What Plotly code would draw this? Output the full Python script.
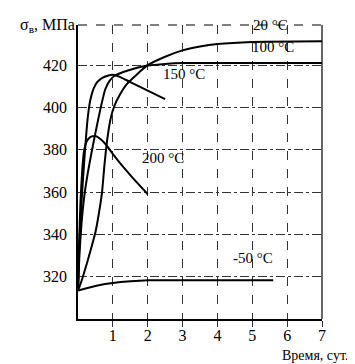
import plotly.graph_objects as go

# Data (days, MPa)
x_20 = [0, 0.07, 0.14, 0.25, 0.37, 0.5, 0.6, 0.69, 0.76, 0.84, 0.94, 1.05, 1.2, 1.4, 1.68, 2.0, 2.5, 3.0, 3.5, 4.0, 5.0, 7.0]
y_20 = [313.5, 316.5, 320, 326, 333, 341, 350, 360, 373, 385, 395, 401, 406, 411, 415.5, 420, 424, 427, 428.8, 430, 431, 431.3]

x_100 = [0, 0.04, 0.1, 0.18, 0.28, 0.38, 0.5, 0.6, 0.68, 0.78, 0.9, 1.05, 1.3, 1.6, 2.0, 2.5, 3.0, 7.0]
y_100 = [313.5, 330, 345, 358, 369, 378, 388, 396, 402, 408.5, 412.5, 415, 416.8, 418.3, 419.8, 420.6, 421, 421]

x_150 = [0, 0.04, 0.1, 0.18, 0.25, 0.3, 0.36, 0.45, 0.55, 0.7, 0.85, 1.0, 1.2, 1.5, 2.0, 2.5]
y_150 = [313.5, 335, 355, 375, 390, 398, 404, 409, 412, 414, 415, 415.5, 414.5, 412, 408, 404]

x_200 = [0, 0.03, 0.07, 0.12, 0.17, 0.25, 0.35, 0.5, 0.65, 0.8, 1.0, 1.5, 2.0]
y_200 = [313.5, 335, 355, 370, 379, 384, 386, 386.5, 385, 382.5, 378, 368, 359]

x_m50 = [0, 0.3, 0.6, 1.0, 1.5, 2.0, 3.0, 5.6]
y_m50 = [313.5, 314.8, 316, 317, 317.8, 318.3, 318.3, 318.3]

x_ticks = [1, 2, 3, 4, 5, 6, 7]
y_ticks = [320, 340, 360, 380, 400, 420]

labels = ["20 °C", "100 °C", "150 °C", "200 °C", "-50 °C"]
label_x = [5.51, 5.59, 3.04, 2.44, 5.02]
label_y = [438.8, 428.5, 415.8, 376.1, 328.8]

FONT = "Liberation Serif, serif"

fig = go.Figure()
for xs, ys in [(x_20, y_20), (x_100, y_100), (x_150, y_150), (x_200, y_200), (x_m50, y_m50)]:
    fig.add_trace(go.Scatter(x=xs, y=ys, mode="lines",
                             line=dict(color="black", width=2, shape="spline", smoothing=0.5),
                             showlegend=False, hoverinfo="skip"))

for t, lx, ly in zip(labels, label_x, label_y):
    fig.add_annotation(x=lx, y=ly, text=t, showarrow=False,
                       font=dict(family=FONT, size=15, color="black"))

fig.add_annotation(xref="paper", yref="paper", x=-0.005, y=0.999, xanchor="right", yanchor="middle",
                   text="σ<sub>в</sub>, МПа", showarrow=False, font=dict(family=FONT, size=16, color="black"))
fig.add_annotation(xref="paper", yref="paper", x=1.115, y=-0.125, xanchor="right", yanchor="middle",
                   text="Время, сут.", showarrow=False, font=dict(family=FONT, size=14, color="black"))

# right border solid, top border dashed
fig.add_shape(type="line", xref="paper", yref="paper", x0=1, x1=1, y0=0, y1=1,
              line=dict(color="black", width=1.2))
fig.add_shape(type="line", xref="paper", yref="paper", x0=0, x1=1, y0=1, y1=1,
              line=dict(color="black", width=1.2, dash="dash"))

fig.update_layout(
    width=355, height=364,
    margin=dict(l=70, r=41, t=17, b=53),
    paper_bgcolor="white", plot_bgcolor="white",
    font=dict(family=FONT, size=16, color="black"),
    xaxis=dict(range=[0, 7], tickvals=x_ticks, ticktext=[str(v) for v in x_ticks],
               showgrid=True, gridcolor="#333", gridwidth=1, griddash="dash",
               showline=True, linecolor="black", linewidth=1.5, zeroline=False,
               ticks="outside", ticklen=6, tickcolor="#333", tickwidth=1, fixedrange=True,
               ticklabelstandoff=-5,
               tickfont=dict(family=FONT, size=16)),
    yaxis=dict(range=[300, 439], tickvals=y_ticks, ticktext=[str(v) for v in y_ticks],
               showgrid=True, gridcolor="#333", gridwidth=1, griddash="dashdot",
               showline=True, linecolor="black", linewidth=1.5, zeroline=False,
               ticks="", ticklabelstandoff=6, fixedrange=True,
               tickfont=dict(family=FONT, size=16)),
)

fig.write_html("out.html")
